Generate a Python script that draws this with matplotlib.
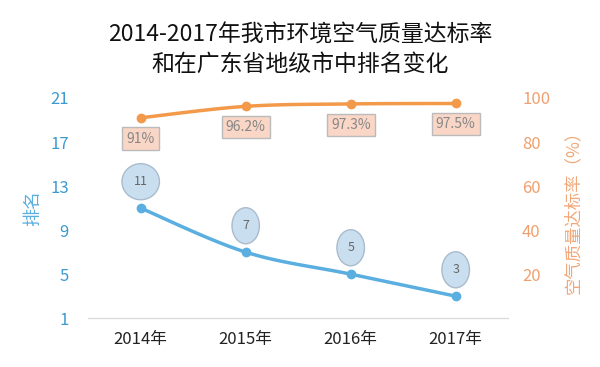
import numpy as np
import matplotlib.pyplot as plt

plt.rcParams['font.family'] = ['Noto Sans CJK SC', 'DejaVu Sans']

years = ['2014年', '2015年', '2016年', '2017年']
rank = [11, 7, 5, 3]
rate = [91, 96.2, 97.3, 97.5]
rate_labels = ['91%', '96.2%', '97.3%', '97.5%']

blue = '#5aafe0'
orange = '#f29a4a'


def smooth(x, y, n=30):
    # Excel-style smoothed line (Catmull-Rom through the points)
    x = np.asarray(x, float)
    y = np.asarray(y, float)
    px = np.concatenate([[x[0]], x, [x[-1]]])
    py = np.concatenate([[y[0]], y, [y[-1]]])
    xs, ys = [], []
    t = np.linspace(0, 1, n)
    for i in range(1, len(px) - 2):
        for p, out in ((px, xs), (py, ys)):
            p0, p1, p2, p3 = p[i - 1], p[i], p[i + 1], p[i + 2]
            m1 = (p2 - p0) / 2
            m2 = (p3 - p1) / 2
            h00 = 2 * t**3 - 3 * t**2 + 1
            h10 = t**3 - 2 * t**2 + t
            h01 = -2 * t**3 + 3 * t**2
            h11 = t**3 - t**2
            out.extend(h00 * p1 + h10 * m1 + h01 * p2 + h11 * m2)
    return np.array(xs), np.array(ys)


fig, ax = plt.subplots(figsize=(6, 3.67), dpi=100)
fig.subplots_adjust(left=0.147, right=0.847, top=0.733, bottom=0.133)
ax2 = ax.twinx()

x = np.arange(len(years))
sx, sy = smooth(x, rank)
ax.plot(sx, sy, color=blue, lw=2.5)
ax.plot(x, rank, 'o', color=blue, ms=6)
for xi, v in zip(x, rank):
    ax.annotate(str(v), (xi, v), xytext=(0, 19), textcoords='offset points',
                ha='center', va='center', fontsize=9, color='#666666',
                bbox=dict(boxstyle='ellipse,pad=0.5', fc='#c9dff0', ec='#aabbcc', lw=1))

sx2, sy2 = smooth(x, rate)
ax2.plot(sx2, sy2, color=orange, lw=2.5)
ax2.plot(x, rate, 'o', color=orange, ms=6)
for xi, v, lab in zip(x, rate, rate_labels):
    ax2.annotate(lab, (xi, v), xytext=(0, -15), textcoords='offset points',
                 ha='center', va='center', fontsize=10, color='#888888',
                 bbox=dict(boxstyle='square,pad=0.3', fc='#f9d6c6', ec='#bbbbbb', lw=1))

ax.set_xlim(-0.5, 3.5)
ax.set_ylim(1, 21)
ax.set_yticks([1, 5, 9, 13, 17, 21])
ax2.set_ylim(0, 100)
ax2.set_yticks([0, 20, 40, 60, 80, 100])
ax2.set_yticklabels(['', '20', '40', '60', '80', '100'])
ax.set_xticks(x)
ax.set_xticklabels(years, fontsize=12, color='#222222')

for a in (ax, ax2):
    for s in ('top', 'left', 'right'):
        a.spines[s].set_visible(False)
    a.spines['bottom'].set_color('#d9d9d9')
    a.tick_params(length=0)
ax.tick_params(axis='y', labelsize=12, labelcolor='#3d9ad1', pad=14)
ax.tick_params(axis='x', pad=9)
ax2.tick_params(axis='y', labelsize=12, labelcolor='#f0a070', pad=10)

ax.set_ylabel('排名', color='#5aafe0', fontsize=13, labelpad=6)
ax2.set_ylabel('空气质量达标率（%）', color='#f0a878', fontsize=12.5, labelpad=10)

fig.suptitle('2014-2017年我市环境空气质量达标率\n和在广东省地级市中排名变化',
             fontsize=16.5, color='#111111', y=0.935, linespacing=1.35)

fig.savefig('out.png')
